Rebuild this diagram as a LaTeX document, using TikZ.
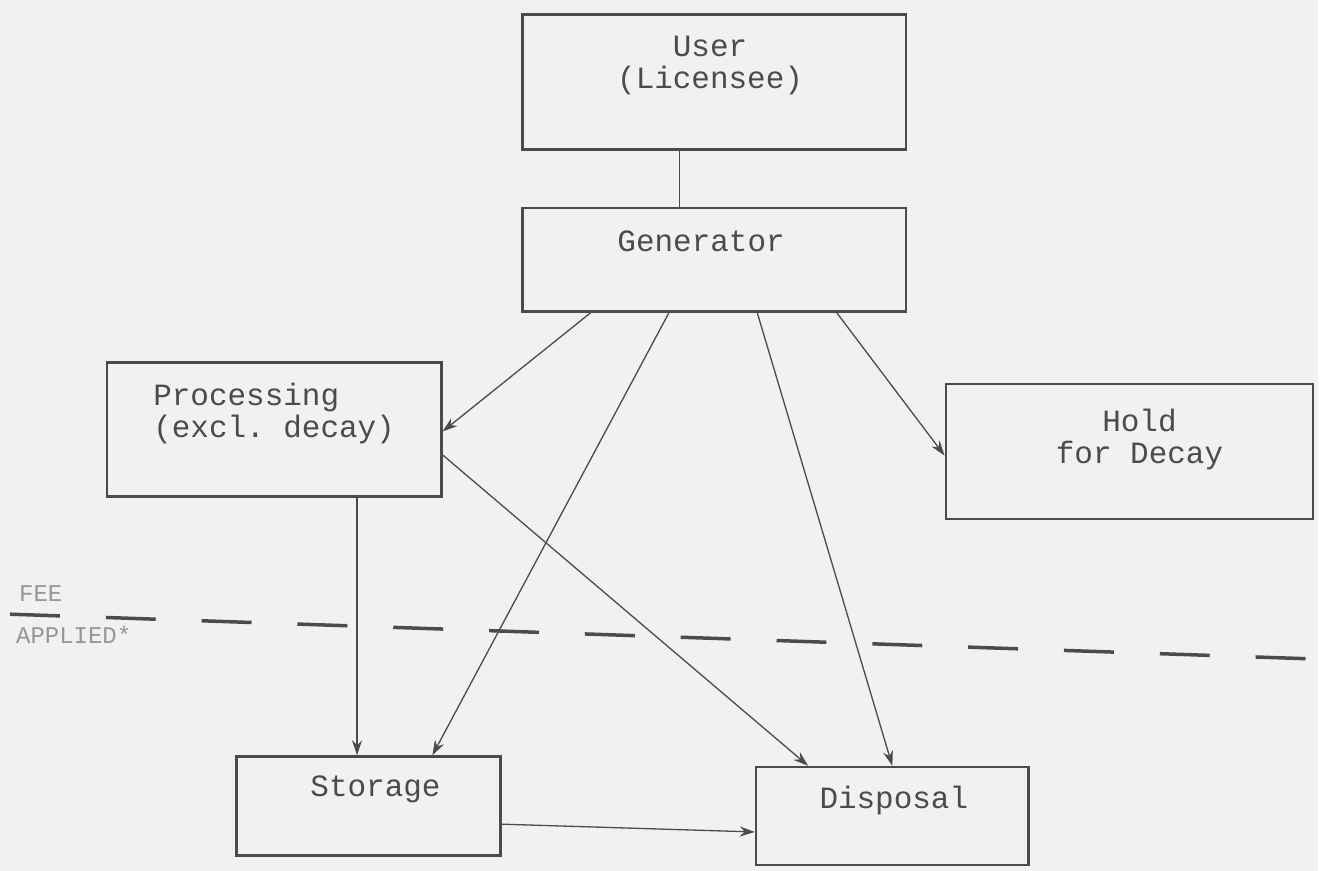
\documentclass[tikz,border=0pt]{standalone}
\usepackage{fontspec}
\setmonofont{Liberation Mono}
\usetikzlibrary{calc,arrows.meta}
\definecolor{paper}{RGB}{241,241,239}
\definecolor{ink}{RGB}{75,75,75}
\definecolor{faint}{RGB}{150,150,150}

\begin{document}
\begin{tikzpicture}[x=1pt,y=-1pt,
    box/.style={draw=ink,line width=2.4pt,inner sep=0pt},
    txt/.style={font=\ttfamily\fontsize{31}{32}\selectfont,text=ink,align=center},
    feetxt/.style={font=\ttfamily\fontsize{24}{24}\selectfont,text=faint,anchor=west,inner sep=0pt},
    arr/.style={draw=ink,line width=1.3pt,-{Stealth[length=15pt,width=10pt]}}]
        \fill [paper] (0,0) rectangle (1320,872);
        % boxes
        \node[box,minimum width=384,minimum height=135] (user) at (715,82) {};
        \node[box,minimum width=384,minimum height=104] (gen) at (715,260) {};
        \node[box,minimum width=335,minimum height=134] (proc) at (274.5,430) {};
        \node[box,minimum width=368,minimum height=135] (hold) at (1131,452) {};
        \node[box,minimum width=264,minimum height=99] (stor) at (369,807) {};
        \node[box,minimum width=273,minimum height=98] (disp) at (893.5,817) {};
        % texts
        \node[txt] (usertxt) at (711,66) {User\\(Licensee)};
        \node[txt] (gentxt) at (702,242) {Generator};
        \node[txt,align=left,anchor=west] (proctxt) at (150,414) {Processing\\(excl. decay)};
        \node[txt] (holdtxt) at (1141,440) {Hold\\for Decay};
        \node[txt] (stortxt) at (376,790) {Storage};
        \node[txt] (disptxt) at (895,802) {Disposal};
        \node[feetxt] (fee) at (19,594) {FEE};
        \node[feetxt] (applied) at (16,636) {APPLIED*};
        % fee line
        \draw [ink,line width=3.5pt,dash pattern=on 50pt off 46pt] (10,615) -- (1320,660);
        % connectors
        \draw [ink,line width=1.3pt] ($(user.south west)!0.41!(user.south east)$) coordinate (u)
            -- (u |- gen.north);
        \draw [arr] ($(gen.south west)!0.18!(gen.south east)$) -- ($(proc.north east)!0.515!(proc.south east)$);
        \draw [arr] ($(gen.south west)!0.383!(gen.south east)$) -- ($(stor.north west)!0.74!(stor.north east)$);
        \draw [arr] ($(gen.south west)!0.612!(gen.south east)$) -- (disp.north);
        \draw [arr] ($(gen.south west)!0.818!(gen.south east)$) -- ($(hold.north west)!0.53!(hold.south west)$);
        \draw [arr] ($(proc.south west)!0.746!(proc.south east)$) coordinate (p) -- (p |- stor.north);
        \draw [arr] ($(proc.north east)!0.687!(proc.south east)$) -- ($(disp.north west)!0.194!(disp.north east)$);
        \draw [arr] ($(stor.north east)!0.68!(stor.south east)$) -- ($(disp.north west)!0.66!(disp.south west)$);
\end{tikzpicture}
\end{document}
